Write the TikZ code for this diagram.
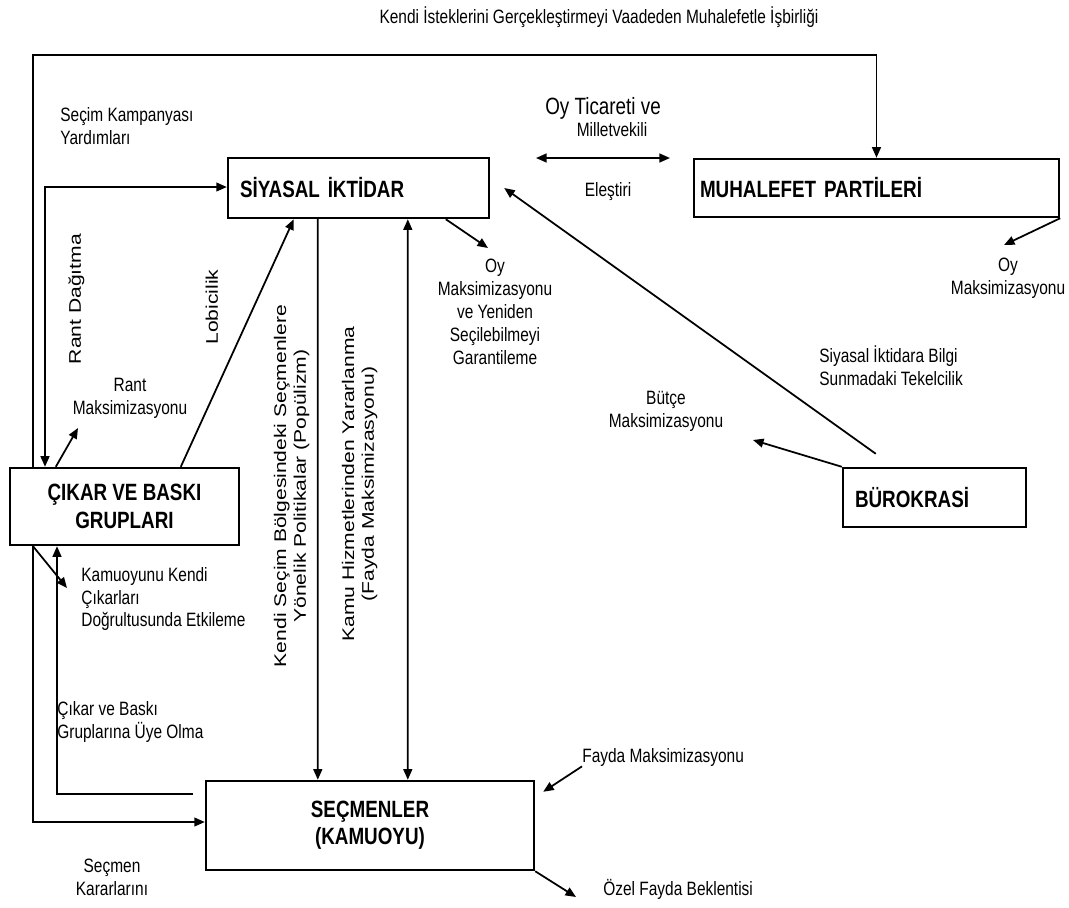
\documentclass[tikz,border=0pt]{standalone}
\usepackage{fontspec}
\usepackage{graphicx}
\setmainfont[FakeStretch=0.8]{Liberation Sans}
\newfontfamily\dikfont{Liberation Sans}
\usetikzlibrary{arrows.meta,calc}
\newcommand{\dikyazi}[1]{\scalebox{1}[0.8]{\dikfont\fontsize{12}{14}\selectfont\begin{tabular}{@{}c@{}}#1\end{tabular}}}
\tikzset{
  kutu/.style={draw, line width=1.4pt, inner sep=0pt, font=\fontsize{13.4}{15.5}\selectfont\bfseries},
  etiket/.style={font=\fontsize{11}{13}\selectfont, inner sep=0pt, align=center},
  ok/.style={line width=1pt, -{Triangle[length=6pt,width=5pt]}},
  ciftok/.style={line width=1pt, {Triangle[length=6pt,width=5pt]}-{Triangle[length=6pt,width=5pt]}},
}
\begin{document}
\begin{tikzpicture}[x=0.02cm,y=-0.02cm]
\useasboundingbox (0,0) rectangle (1069,907);

\node[kutu, minimum width=5.22cm, minimum height=1.2cm, inner xsep=0.24cm, text width=4.74cm, align=left] (siyasal) at (358.5,188) {SİYASAL İKTİDAR};
\node[kutu, minimum width=7.3cm, minimum height=1.16cm, inner xsep=0.12cm, text width=7.06cm, align=left] (muhalefet) at (876.5,188) {MUHALEFET PARTİLERİ};
\node[kutu, minimum width=4.58cm, minimum height=1.54cm, align=center] (cikar) at (124.5,506.5) {ÇIKAR VE BASKI\\GRUPLARI};
\node[kutu, minimum width=3.66cm, minimum height=1.18cm, inner xsep=0.24cm, text width=3.18cm, align=left] (burokrasi) at (934.5,497.5) {BÜROKRASİ};
\node[kutu, minimum width=6.56cm, minimum height=1.78cm, align=center] (secmen) at (370,825.5) {SEÇMENLER\\(KAMUOYU)};

\node[etiket] (baslik) at (599,17) {Kendi İsteklerini Gerçekleştirmeyi Vaadeden Muhalefetle İşbirliği};
\node[etiket, anchor=west, align=left] (kampanya) at (60,126) {Seçim Kampanyası\\Yardımları};
\node[etiket, font=\fontsize{13.4}{15}\selectfont] (ticaret) at (603,108) {Oy Ticareti ve};
\node[etiket] (vekil) at (612,130) {Milletvekili};
\node[etiket] (elestiri) at (608,192) {Eleştiri};
\node[etiket] (oymaks) at (495,312) {Oy\\Maksimizasyonu\\ve Yeniden\\Seçilebilmeyi\\Garantileme};
\node[etiket] (muhoy) at (1008,278) {Oy\\Maksimizasyonu};
\node[etiket, anchor=west, align=left] (bilgi) at (819,366) {Siyasal İktidara Bilgi\\Sunmadaki Tekelcilik};
\node[etiket] (butce) at (666,411) {Bütçe\\Maksimizasyonu};
\node[etiket] (rantmaks) at (130,398) {Rant\\Maksimizasyonu};
\node[rotate=90, inner sep=0pt] (rantdag) at (77,299) {\dikyazi{Rant Dağıtma}};
\node[rotate=90, inner sep=0pt] (lobi) at (214,307) {\dikyazi{Lobicilik}};
\node[rotate=90, inner sep=0pt] (populizm) at (292,486) {\dikyazi{Kendi Seçim Bölgesindeki Seçmenlere\\Yönelik Politikalar (Popülizm)}};
\node[rotate=90, inner sep=0pt] (kamuhiz) at (360,484) {\dikyazi{Kamu Hizmetlerinden Yararlanma\\(Fayda Maksimizasyonu)}};
\node[etiket, anchor=west, align=left] (kamuoyu) at (81,599) {Kamuoyunu Kendi\\Çıkarları\\Doğrultusunda Etkileme};
\node[etiket, anchor=west, align=left] (uyelik) at (57,722) {Çıkar ve Baskı\\Gruplarına Üye Olma};
\node[etiket] (karar) at (112,877) {Seçmen\\Kararlarını};
\node[etiket, anchor=west] (fayda) at (582,757) {Fayda Maksimizasyonu};
\node[etiket, anchor=west] (ozel) at (603,889) {Özel Fayda Beklentisi};

\coordinate (solust) at (33,55);
\coordinate (soldis) at (33,822);
\coordinate (solic) at (57,794);
\coordinate (rantkose) at (45,187);
\coordinate (ticsol) at (536,158);
\coordinate (ticsag) at (670,158);
\coordinate (oyuc) at (488,248);
\coordinate (muhuc) at (1004,245);
\coordinate (butceuc) at (753,440);
\coordinate (rantuc) at (78,428);
\coordinate (kamuuc) at (67,588);
\coordinate (ozeluc) at (576,897);

\draw[ok] (cikar.north -| solust) -- (solust) -| (muhalefet.north);
\draw[ok] (cikar.south -| soldis) -- (soldis) -- (soldis -| secmen.west);
\draw[ok] ($(solic -| secmen.west)+(-12,0)$) -- (solic) -- (cikar.south -| solic);
\draw[ok] (cikar.south -| soldis) -- (kamuuc);
\draw[ciftok] (cikar.north -| rantkose) -- (rantkose) -- (rantkose -| siyasal.west);
\draw[ok] ($(cikar.north west)+(47,0)$) -- (rantuc);
\draw[ok] ($(cikar.north west)+(172,0)$) -- ($(siyasal.south west)+(67,0)$);
\draw[ok] ($(siyasal.south west)+(91,0)$) -- ($(secmen.north west)+(113,0)$);
\draw[ciftok] ($(siyasal.south west)+(181,0)$) -- ($(secmen.north west)+(203,0)$);
\draw[ok] ($(siyasal.south west)+(219,0)$) -- (oyuc);
\draw[ok] (muhalefet.south east) -- (muhuc);
\draw[ok] ($(burokrasi.north west)+(34,-13)$) -- ($(siyasal.east)+(14,0)$);
\draw[ok] (burokrasi.north west) -- (butceuc);
\draw[ciftok] (ticsol) -- (ticsag);
\draw[ok] (fayda.south west) -- ($(secmen.north east)+(8,12)$);
\draw[ok] (secmen.south east) -- (ozeluc);
\end{tikzpicture}
\end{document}
